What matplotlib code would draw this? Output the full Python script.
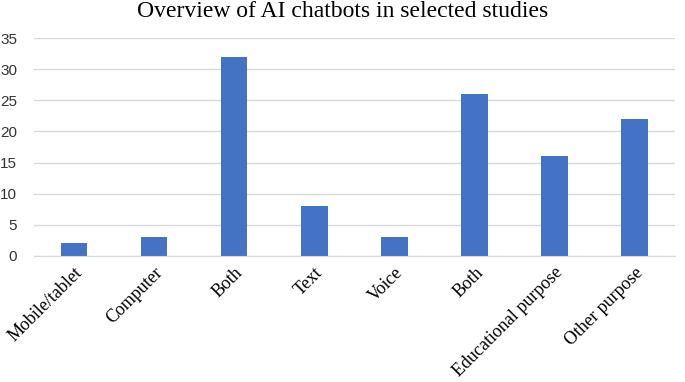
import matplotlib.pyplot as plt
import numpy as np

# data
categories = ['Mobile/tablet', 'Computer', 'Both', 'Text', 'Voice', 'Both',
              'Educational purpose', 'Other purpose']
counts = [2, 3, 32, 8, 3, 26, 16, 22]
yticks = [0, 5, 10, 15, 20, 25, 30, 35]

fig = plt.figure(figsize=(6.85, 3.82), dpi=100)
ax = fig.add_axes([0.0496, 0.330, 0.9354, 0.5705])

x = np.arange(len(categories))
ax.bar(x, counts, width=0.33, color='#4472c4', zorder=3)

ax.set_xlim(-0.5, len(categories) - 0.5)
ax.set_ylim(0, 35)
ax.set_yticks(yticks)
ax.set_yticklabels([str(v) for v in yticks], fontfamily='Liberation Sans',
                   fontsize=11, color='#333333')
ax.grid(axis='y', color='#d9d9d9', linewidth=1, zorder=0)

ax.set_xticks(x)
ax.set_xticklabels(categories, rotation=45, ha='right', va='top',
                   rotation_mode='anchor', fontfamily='Liberation Serif',
                   fontsize=13)
ax.tick_params(axis='both', length=0)
ax.tick_params(axis='y', pad=12)
ax.tick_params(axis='x', pad=6)

for s in ['top', 'right', 'left']:
    ax.spines[s].set_visible(False)
ax.spines['bottom'].set_color('#d9d9d9')
ax.spines['bottom'].set_zorder(4)

fig.suptitle('Overview of AI chatbots in selected studies', y=0.997,
             fontfamily='Liberation Serif', fontsize=17)

fig.savefig('out.png', dpi=100)
